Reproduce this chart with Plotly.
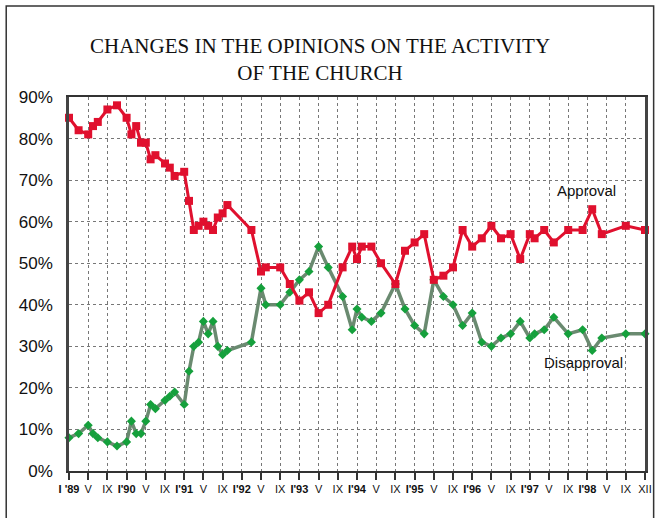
import plotly.graph_objects as go

# Survey dates as months elapsed since January 1989
months = [0, 2, 4, 5, 6, 8, 10, 12, 13, 14,
          15, 16, 17, 18, 20, 21, 22, 24, 25, 26,
          27, 28, 29, 30, 31, 32, 33, 38, 40, 41,
          44, 46, 48, 50, 52, 54, 57, 59, 60, 61,
          63, 65, 68, 70, 72, 74, 76, 78, 80, 82,
          84, 86, 88, 90, 92, 94, 96, 97, 99, 101,
          104, 107, 109, 111, 116, 120]

approval = [85, 82, 81, 83, 84, 87, 88, 85, 81, 83,
            79, 79, 75, 76, 74, 73, 71, 72, 65, 58,
            59, 60, 59, 58, 61, 62, 64, 58, 48, 49,
            49, 45, 41, 43, 38, 40, 49, 54, 51, 54,
            54, 50, 45, 53, 55, 57, 46, 47, 49, 58,
            54, 56, 59, 56, 57, 51, 57, 56, 58, 55,
            58, 58, 63, 57, 59, 58]

disapproval = [8, 9, 11, 9, 8, 7, 6, 7, 12, 9,
               9, 12, 16, 15, 17, 18, 19, 16, 24, 30,
               31, 36, 33, 36, 30, 28, 29, 31, 44, 40,
               40, 43, 46, 48, 54, 49, 42, 34, 39, 37,
               36, 38, 45, 39, 35, 33, 46, 42, 40, 35,
               38, 31, 30, 32, 33, 36, 32, 33, 34, 37,
               33, 34, 29, 32, 33, 33]

tick_months = list(range(0, 121, 4))
tick_labels = []
for yr in range(89, 99):
    tick_labels += ["<b>I '%02d</b>" % yr if yr == 89 else "<b>I'%02d</b>" % yr, "V", "IX"]
tick_labels.append("XII")

y_ticks = list(range(0, 91, 10))

fig = go.Figure()

fig.add_trace(go.Scatter(
    x=months, y=disapproval, mode="lines+markers", name="Disapproval",
    line=dict(color="#6a8a70", width=3.5),
    marker=dict(symbol="diamond", size=7, color="#15a03c"),
    cliponaxis=False,
))
fig.add_trace(go.Scatter(
    x=months, y=approval, mode="lines+markers", name="Approval",
    line=dict(color="#e0102e", width=3),
    marker=dict(symbol="square", size=8, color="#e0102e"),
    cliponaxis=False,
))

fig.add_annotation(x=107.8, y=67.6, text="Approval", showarrow=False,
                   font=dict(family="Liberation Sans, Arial", size=15, color="#111"))
fig.add_annotation(x=107.2, y=26, text="Disapproval", showarrow=False,
                   font=dict(family="Liberation Sans, Arial", size=15, color="#111"))

# Chart title
fig.add_annotation(
    xref="paper", yref="paper", x=0.436, y=1.099,
    xanchor="center", yanchor="middle", showarrow=False,
    text="CHANGES IN THE OPINIONS ON THE ACTIVITY<br>OF THE CHURCH",
    font=dict(family="Liberation Serif, Times New Roman", size=21, color="#111"),
)

# Outer frame around the whole figure
fig.add_shape(type="rect", xref="paper", yref="paper",
              x0=-0.109, x1=1.015, y0=-0.3, y1=1.243,
              line=dict(color="#333", width=1.5), fillcolor="rgba(0,0,0,0)")

fig.update_layout(
    width=664, height=518,
    margin=dict(l=69, r=17, t=97, b=47),
    paper_bgcolor="white", plot_bgcolor="white",
    showlegend=False,
)

fig.update_xaxes(
    range=[0, 120], tickmode="array", tickvals=tick_months, ticktext=tick_labels,
    tickangle=0,
    showgrid=True, gridcolor="#777", griddash="dot", gridwidth=1,
    showline=True, linecolor="#333", linewidth=2, mirror=True,
    ticks="outside", ticklen=7, tickwidth=1.5, tickcolor="#333",
    tickfont=dict(family="Liberation Sans, Arial", size=11, color="#111"),
    zeroline=False,
)
fig.update_yaxes(
    range=[0, 90], tickmode="array", tickvals=y_ticks,
    ticktext=["%d%%" % v for v in y_ticks],
    showgrid=True, gridcolor="#777", griddash="dot", gridwidth=1,
    showline=True, linecolor="#444", linewidth=2.5, mirror=True,
    ticks="", ticklabelstandoff=10,
    tickfont=dict(family="Liberation Sans, Arial", size=17, color="#111"),
    zeroline=False,
)

fig.write_html("out.html")
